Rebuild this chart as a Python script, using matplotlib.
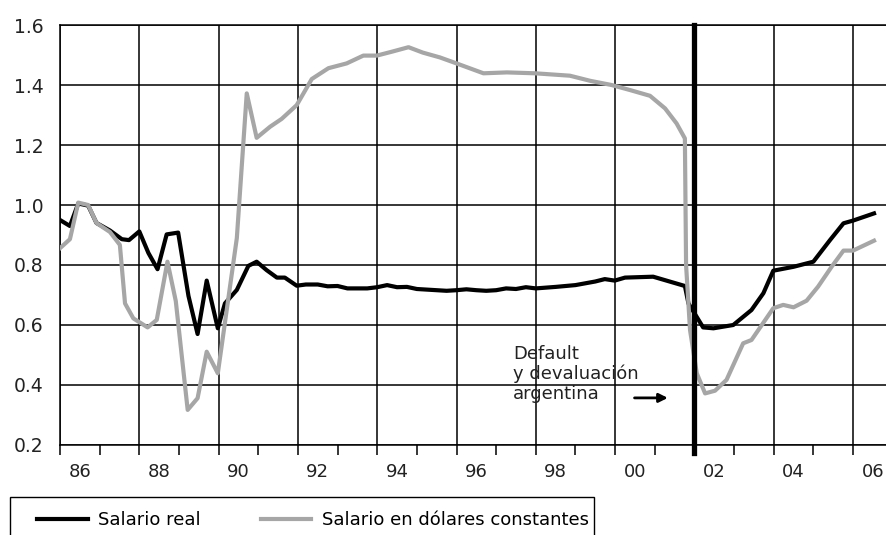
import matplotlib
matplotlib.use("Agg")
import matplotlib.pyplot as plt
from matplotlib.patches import Rectangle
import numpy as np

# salario real (indice)
real_t = [1986.0, 1986.25, 1986.46, 1986.71, 1986.92, 1987.26, 1987.56, 1987.74,
          1988.0, 1988.23, 1988.46, 1988.69, 1988.98, 1989.24, 1989.47, 1989.70,
          1989.98, 1990.16, 1990.46, 1990.75, 1990.96, 1991.21, 1991.47, 1991.67,
          1991.97, 1992.2, 1992.5, 1992.75, 1993.0, 1993.25, 1993.75, 1994.0,
          1994.25, 1994.5, 1994.75, 1995.0, 1995.5, 1995.75, 1996.0, 1996.25,
          1996.5, 1996.75, 1997.0, 1997.25, 1997.5, 1997.75, 1998.0, 1998.5,
          1999.0, 1999.5, 1999.74, 1999.99, 2000.25, 2000.96, 2001.76, 2001.85,
          2002.22, 2002.48, 2002.98, 2003.44, 2003.74, 2003.99, 2004.5, 2005.0,
          2005.42, 2005.76, 2006.0, 2006.53]
real_v = [0.95, 0.93, 1.005, 0.998, 0.94, 0.915, 0.886, 0.883,
          0.912, 0.84, 0.786, 0.902, 0.908, 0.697, 0.57, 0.748,
          0.589, 0.672, 0.717, 0.797, 0.811, 0.783, 0.758, 0.758,
          0.731, 0.735, 0.735, 0.729, 0.73, 0.722, 0.722, 0.726,
          0.733, 0.726, 0.727, 0.72, 0.716, 0.714, 0.716, 0.719,
          0.716, 0.714, 0.716, 0.722, 0.72, 0.726, 0.722, 0.727,
          0.733, 0.745, 0.753, 0.748, 0.758, 0.761, 0.73, 0.672,
          0.592, 0.589, 0.60, 0.65, 0.706, 0.781, 0.794, 0.811,
          0.883, 0.939, 0.948, 0.972]

# salario en dolares constantes
usd_t = [1986.0, 1986.25, 1986.46, 1986.71, 1986.92, 1987.26, 1987.51, 1987.64,
         1987.85, 1988.21, 1988.44, 1988.71, 1988.92, 1989.22, 1989.47, 1989.70,
         1989.98, 1990.46, 1990.71, 1990.96, 1991.30, 1991.59, 1991.97, 1992.35,
         1992.77, 1993.23, 1993.65, 1993.99, 1994.37, 1994.79, 1995.15, 1995.58,
         1996.0, 1996.68, 1997.27, 1997.98, 1998.86, 1999.37, 1999.91, 2000.38,
         2000.88, 2001.26, 2001.55, 2001.76, 2001.79, 2001.89, 2002.06, 2002.27,
         2002.52, 2002.81, 2003.23, 2003.44, 2003.70, 2003.99, 2004.24, 2004.50,
         2004.83, 2005.12, 2005.46, 2005.76, 2006.0, 2006.53]
usd_v = [0.856, 0.886, 1.008, 1.0, 0.94, 0.91, 0.867, 0.672,
         0.622, 0.592, 0.617, 0.811, 0.68, 0.317, 0.356, 0.511,
         0.439, 0.89, 1.372, 1.224, 1.261, 1.287, 1.333, 1.42,
         1.456, 1.472, 1.498, 1.498, 1.511, 1.526, 1.508, 1.492,
         1.472, 1.439, 1.442, 1.439, 1.431, 1.414, 1.40, 1.383,
         1.364, 1.322, 1.272, 1.222, 0.8, 0.583, 0.439, 0.372,
         0.381, 0.417, 0.539, 0.55, 0.60, 0.656, 0.667, 0.659,
         0.681, 0.728, 0.794, 0.848, 0.848, 0.881]

years = list(range(1986, 2007))
label_years = list(range(1986, 2007, 2))
year_labels = ["%02d" % (y % 100) for y in label_years]
y_ticks = [0.2, 0.4, 0.6, 0.8, 1.0, 1.2, 1.4, 1.6]
default_year = 2002

plt.rcParams['font.family'] = ['DejaVu Sans']
plt.rcParams['font.size'] = 13

W, H = 887, 535
fig = plt.figure(figsize=(W / 100, H / 100), dpi=100)
ax = fig.add_axes([60 / W, 1 - 445 / H, 1 - 60 / W, (445 - 25) / H])

ax.plot(real_t, real_v, color='black', lw=3, zorder=3, label='Salario real')
ax.plot(usd_t, usd_v, color='#a6a6a6', lw=3, zorder=4,
        label='Salario en dólares constantes')

ax.set_xlim(1986, 1986 + (W - 60) / 39.65)
ax.set_ylim(0.2, 1.6)

# grid
for yr in label_years:
    if yr == default_year:
        continue
    ax.axvline(yr, color='black', lw=1.1, zorder=1)
ax.set_yticks(y_ticks)
ax.set_yticklabels(["%.1f" % v for v in y_ticks])
ax.yaxis.grid(True, color='black', lw=1.1, zorder=1)
ax.set_axisbelow(True)
ax.tick_params(axis='y', length=0, pad=12, labelcolor='#222222', labelsize=13.5)

ax.set_xticks([y + 0.5 for y in label_years])
ax.set_xticklabels(year_labels)
ax.set_xticks(years, minor=True)
ax.tick_params(axis='x', which='major', length=0, pad=13, labelcolor='#222222')
ax.tick_params(axis='x', which='minor', length=7, width=1.1, color='black',
               direction='out')

ax.spines['right'].set_visible(False)
for s in ['left', 'bottom', 'top']:
    ax.spines[s].set_linewidth(1.1)

# linea del default
ax.axvline(default_year, ymin=-0.018, ymax=1, color='black', lw=3.8,
           zorder=6, clip_on=False)

ax.text(1997.43, 0.436, "Default\ny devaluación\nargentina", ha='left',
        va='center', linespacing=1.12, color='#222222', zorder=7)
ax.annotate("", xy=(2001.4, 0.357), xytext=(2000.42, 0.357),
            arrowprops=dict(arrowstyle='-|>', color='black', lw=2,
                            mutation_scale=13), zorder=7)

# caja de la leyenda (cortada abajo)
fig.patches.append(Rectangle((10 / W, -0.05), (594 - 10) / W, 0.05 + 1 - 497 / H,
                             transform=fig.transFigure, fill=False,
                             edgecolor='black', lw=1.0))
fig.legend(loc='center left', bbox_to_anchor=(28 / W, 1 - 520 / H), ncol=2,
           frameon=False, borderpad=0, handlelength=2.8, handletextpad=0.6,
           columnspacing=3.3, fontsize=13)

fig.savefig("out.png", dpi=100)
